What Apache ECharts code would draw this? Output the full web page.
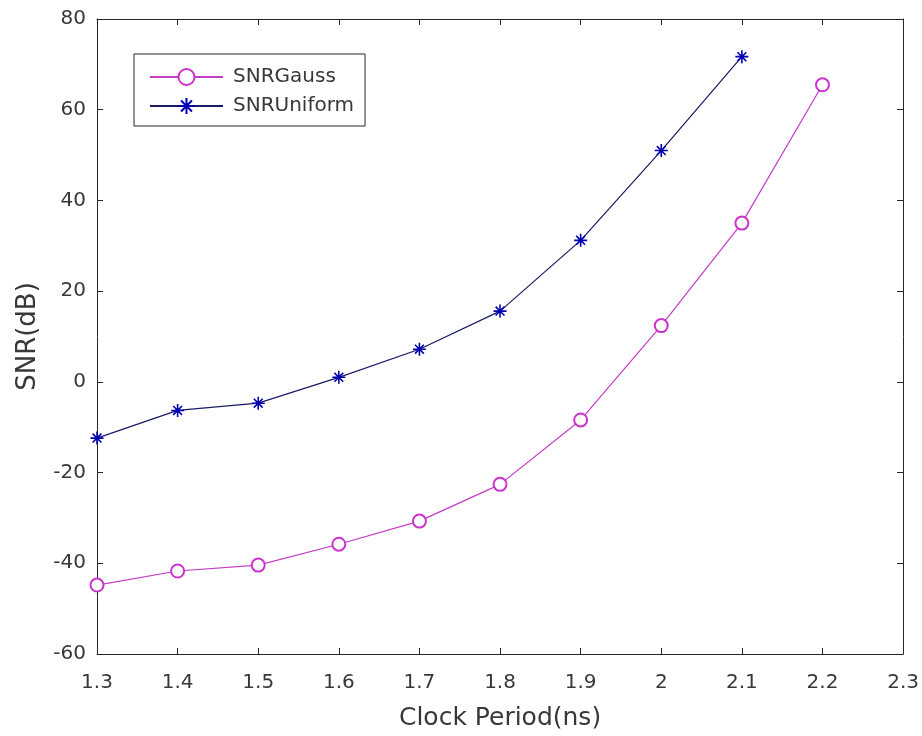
<!DOCTYPE html>
<html>
<head>
<meta charset="utf-8">
<script src="https://cdn.jsdelivr.net/npm/echarts@6/dist/echarts.min.js"></script>
<style>html,body{margin:0;padding:0;background:#fff}#c{width:922px;height:736px}</style>
</head>
<body>
<div id="c"></div>
<script>
const clockPeriod = [1.3, 1.4, 1.5, 1.6, 1.7, 1.8, 1.9, 2.0, 2.1, 2.2];
const snrGauss = [-44.8, -41.7, -40.4, -35.8, -30.7, -22.6, -8.4, 12.4, 35.0, 65.5];
const snrUniform = [-12.4, -6.3, -4.7, 1.0, 7.2, 15.6, 31.2, 51.0, 71.7];
const seriesNames = ['SNRGauss', 'SNRUniform'];
const xTitle = 'Clock Period(ns)';
const yTitle = 'SNR(dB)';

const txt = '#383838';
const axisColor = '#262626';
const font = 'DejaVu Sans, sans-serif';
const fmtX = v => String(parseFloat(Number(v).toFixed(1)));
const asterisk = 'path://M5 0 L5 10 M0 5 L10 5 M1.6 1.6 L8.4 8.4 M8.4 1.6 L1.6 8.4';

const chart = echarts.init(document.getElementById('c'));
const axisCommon = {
  axisLine: { show: true, onZero: false, lineStyle: { color: axisColor, width: 1 } },
  axisTick: { show: true, inside: true, length: 6, lineStyle: { color: axisColor } },
  splitLine: { show: false }
};
chart.setOption({
  backgroundColor: '#fff',
  animation: false,
  grid: { left: 97, top: 19, right: 18, bottom: 81, show: false },
  legend: {
    orient: 'vertical',
    left: 134, top: 54,
    padding: [13, 11, 10, 15],
    itemGap: 9,
    itemWidth: 73, itemHeight: 20,
    borderColor: axisColor, borderWidth: 1,
    backgroundColor: '#fff',
    textStyle: { fontFamily: font, fontSize: 20, color: txt, padding: [0, 0, 0, 5] },
    data: seriesNames
  },
  xAxis: [{
    type: 'value', min: 1.3, max: 2.3, interval: 0.1, position: 'bottom',
    ...axisCommon,
    axisLabel: { color: txt, fontSize: 20, margin: 19, fontFamily: font, formatter: fmtX },
    name: xTitle, nameLocation: 'middle', nameGap: 52,
    nameTextStyle: { color: txt, fontSize: 25, fontFamily: font }
  }, {
    type: 'value', min: 1.3, max: 2.3, interval: 0.1, position: 'top',
    ...axisCommon, axisLabel: { show: false }
  }],
  yAxis: [{
    type: 'value', min: -60, max: 80, interval: 20, position: 'left',
    ...axisCommon,
    axisLabel: { color: txt, fontSize: 20, margin: 11, fontFamily: font },
    name: yTitle, nameLocation: 'middle', nameGap: 56,
    nameTextStyle: { color: txt, fontSize: 26, fontFamily: font }
  }, {
    type: 'value', min: -60, max: 80, interval: 20, position: 'right',
    ...axisCommon, axisLabel: { show: false }
  }],
  series: [{
    name: seriesNames[0], type: 'line',
    data: clockPeriod.map((x, i) => [x, snrGauss[i]]),
    symbol: 'emptyCircle', symbolSize: 13,
    lineStyle: { color: '#c43cc4', width: 1.2 },
    itemStyle: { color: '#cc33cc', borderColor: '#cc33cc', borderWidth: 1.2 }
  }, {
    name: seriesNames[1], type: 'line',
    data: snrUniform.map((y, i) => [clockPeriod[i], y]),
    symbol: asterisk, symbolSize: 13,
    lineStyle: { color: '#1a1a66', width: 1.2 },
    itemStyle: { color: '#0000b0', borderColor: '#0000b0', borderWidth: 1.6 }
  }]
});
</script>
</body>
</html>
